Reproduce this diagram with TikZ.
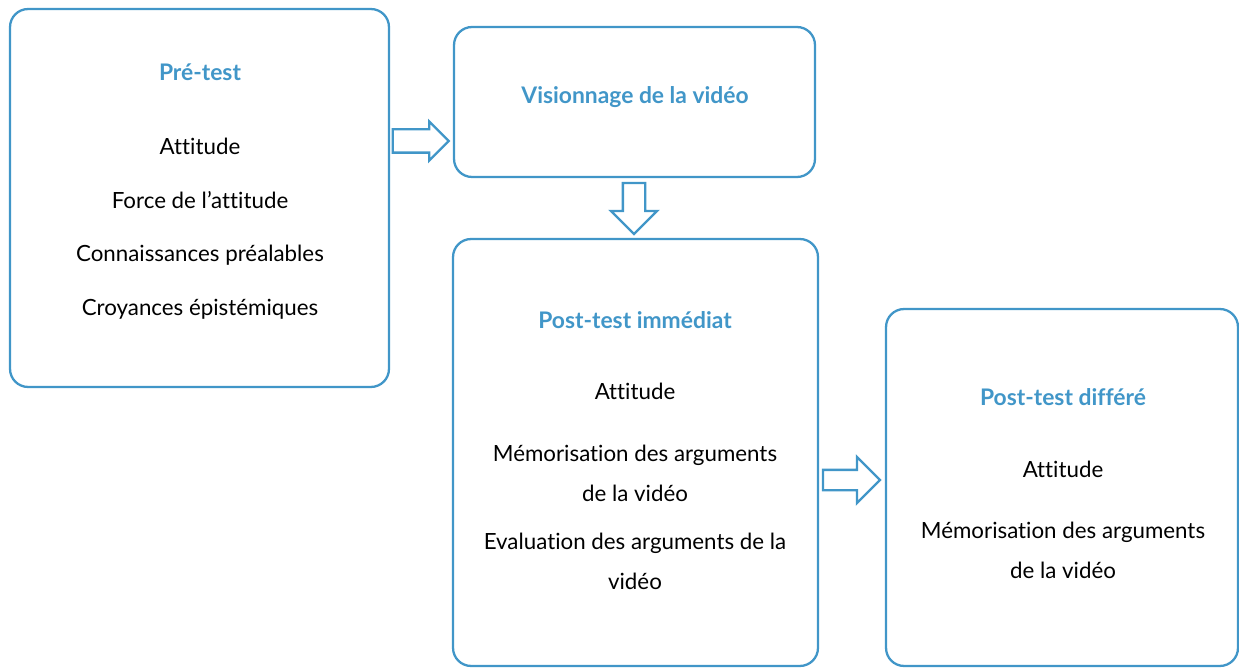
\documentclass[tikz,border=0pt]{standalone}
\usepackage{fontspec}
\setmainfont{Lato}[Ligatures=NoCommon]
\usetikzlibrary{shapes.arrows}
\definecolor{bleu}{RGB}{65,150,200}

\begin{document}
\begin{tikzpicture}[x=0.02cm, y=-0.02cm,
  boite/.style={draw=bleu, line width=1.3pt, rounded corners=0.36cm, inner sep=0pt},
  fleche/.style={single arrow, draw=bleu, line width=1.3pt, inner xsep=0pt},
  titre/.style={text=bleu, font=\bfseries\fontsize{13}{15}\selectfont},
  item/.style={align=center, font=\fontsize{12.7}{22.7}\selectfont}]

\useasboundingbox (0,0) rectangle (1239,668);

% Les cadres des quatre phases
\node[boite, minimum width=7.58cm, minimum height=7.56cm] (pretest) at (199.5,198) {};
\node[boite, minimum width=7.22cm, minimum height=3cm] (visio) at (634.5,102) {};
\node[boite, minimum width=7.3cm, minimum height=8.54cm] (immediat) at (635.5,452.5) {};
\node[boite, minimum width=7.04cm, minimum height=7.14cm] (differe) at (1062,487.5) {};

% Les flèches entre les phases
\node[fleche, minimum height=1.12cm, inner ysep=0.21cm, single arrow head extend=0.16cm] (f1) at (415,141) {};
\node[fleche, rotate=-90, minimum height=1.02cm, inner ysep=0.2cm, single arrow head extend=0.24cm] (f2) at (634,203) {};
\node[fleche, minimum height=1.14cm, inner ysep=0.18cm, single arrow head extend=0.26cm] (f3) at (846.5,480) {};

% Pré-test
\node[titre] (titrepre) at (200,72) {Pré-test};
\node[item] (pre1) at (200,146) {Attitude};
\node[item] (pre2) at (200,200) {Force de l’attitude};
\node[item] (pre3) at (200,255) {Connaissances préalables};
\node[item] (pre4) at (200,309) {Croyances épistémiques};

% Visionnage
\node[titre] (titrevis) at (635,97) {Visionnage de la vidéo};

% Post-test immédiat
\node[titre] (titreimm) at (635,320) {Post-test immédiat};
\node[item] (imm1) at (635,391) {Attitude};
\node[item] (imm2) at (635,473) {Mémorisation des arguments\\de la vidéo};
\node[item] (imm3) at (635,561) {Evaluation des arguments de la\\vidéo};

% Post-test différé
\node[titre] (titredif) at (1063,397) {Post-test différé};
\node[item] (dif1) at (1063,469) {Attitude};
\node[item] (dif2) at (1063,550) {Mémorisation des arguments\\de la vidéo};
\end{tikzpicture}
\end{document}
